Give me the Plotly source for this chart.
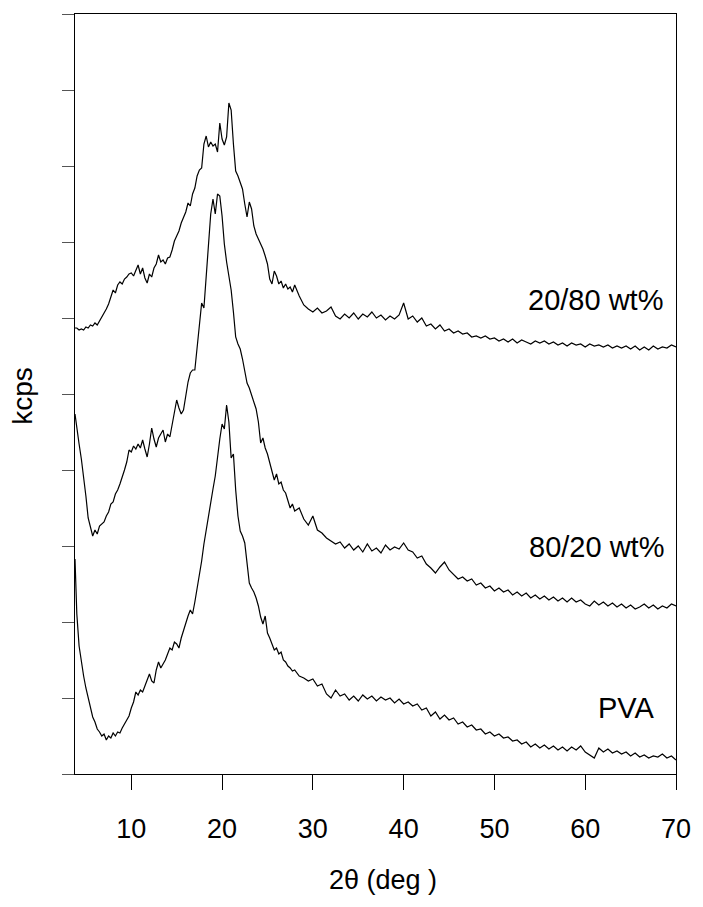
import plotly.graph_objects as go

# 2-theta grid (deg)
two_theta = [3.8] + [4.0 + 0.25 * i for i in range(97)] + [28.5 + 0.5 * i for i in range(84)]

# intensities (arbitrary kcps units, stacked as in the figure)
i_20_80 = [446,
    446, 444, 445, 444, 447, 446, 449, 448, 451, 449, 453, 456, 460, 465, 470, 478,
    484, 481, 489, 492, 490, 495, 497, 500, 501, 498, 504, 509, 500, 506, 496, 491,
    500, 497, 506, 510, 519, 512, 514, 510, 516, 517, 524, 533, 538, 543, 551, 556,
    562, 571, 568, 580, 586, 598, 604, 606, 630, 638, 627, 632, 628, 630, 622, 651,
    635, 629, 637, 671, 664, 630, 603, 598, 592, 585, 570, 557, 572, 565, 548, 540,
    535, 530, 525, 518, 510, 495, 490, 503, 498, 490, 493, 486, 490, 485, 487, 482,
    489,
    478, 469, 465, 462, 466, 461, 463, 467, 458, 455, 460, 456, 461, 455, 460, 457,
    462, 456, 459, 454, 458, 455, 459, 471, 455, 458, 452, 456, 448, 450, 445, 449,
    443, 445, 441, 443, 440, 441, 437, 438, 436, 438, 435, 436, 433, 435, 432, 435,
    431, 434, 432, 430, 433, 431, 433, 430, 432, 429, 431, 428, 431, 429, 430, 427,
    430, 428, 429, 427, 429, 426, 428, 426, 428, 425, 428, 424, 427, 424, 428, 425,
    427, 426, 429, 427]

i_80_20 = [360,
    345, 330, 315, 298, 278, 256, 246, 238, 244, 240, 248, 250, 252, 258, 262, 270,
    272, 280, 284, 290, 296, 304, 312, 324, 322, 328, 325, 330, 326, 334, 325, 317,
    330, 346, 335, 327, 336, 340, 344, 332, 340, 337, 350, 365, 374, 366, 360, 364,
    380, 392, 401, 404, 404, 425, 448, 471, 466, 495, 531, 560, 575, 560, 580, 578,
    558, 530, 512, 500, 484, 462, 437, 430, 425, 415, 404, 391, 386, 379, 374, 365,
    352, 331, 336, 326, 320, 311, 305, 294, 300, 290, 292, 284, 281, 272, 266, 270,
    263,
    266, 255, 249, 258, 244, 241, 236, 233, 230, 232, 226, 230, 224, 228, 222, 230,
    223, 226, 221, 229, 224, 227, 225, 231, 224, 222, 216, 218, 210, 206, 201, 207,
    212, 204, 199, 195, 197, 193, 195, 189, 191, 186, 188, 183, 186, 182, 184, 179,
    182, 178, 181, 176, 179, 175, 178, 174, 177, 173, 176, 172, 176, 172, 174, 170,
    168, 173, 169, 172, 168, 171, 167, 170, 166, 169, 165, 167, 170, 166, 169, 165,
    168, 166, 170, 168]

i_pva = [215,
    160, 128, 112, 98, 86, 77, 68, 57, 52, 45, 42, 38, 40, 34, 38, 36,
    41, 38, 42, 41, 46, 50, 54, 58, 66, 72, 82, 79, 84, 82, 88, 95,
    100, 93, 91, 104, 112, 106, 110, 114, 120, 126, 124, 132, 130, 126, 136, 144,
    151, 158, 164, 160, 172, 185, 200, 213, 230, 245, 257, 272, 285, 298, 318, 335,
    350, 345, 369, 352, 316, 320, 284, 258, 243, 238, 231, 212, 191, 186, 182, 176,
    168, 157, 150, 158, 141, 136, 130, 124, 126, 120, 122, 114, 112, 108, 106, 103,
    104,
    98, 96, 93, 95, 88, 90, 80, 76, 84, 78, 80, 74, 78, 73, 79, 75,
    78, 73, 77, 74, 76, 71, 75, 70, 72, 68, 70, 64, 66, 58, 62, 55,
    59, 54, 56, 50, 52, 47, 49, 44, 45, 40, 42, 38, 40, 36, 37, 33,
    34, 30, 32, 27, 30, 26, 29, 25, 28, 24, 27, 23, 27, 24, 28, 22,
    19, 16, 26, 22, 25, 21, 23, 20, 22, 18, 21, 17, 19, 16, 18, 17,
    20, 16, 18, 14]

x_ticks = [10, 20, 30, 40, 50, 60, 70]
y_ticks = [76 * k for k in range(11)]

FONT = "Liberation Sans, Arial, sans-serif"

fig = go.Figure()
for ys in (i_20_80, i_80_20, i_pva):
    fig.add_trace(go.Scatter(x=two_theta, y=ys, mode="lines",
                             line=dict(color="black", width=1.2),
                             showlegend=False, hoverinfo="skip"))

fig.update_layout(
    width=703, height=907,
    margin=dict(l=75, r=19, t=14, b=133),
    paper_bgcolor="white", plot_bgcolor="white",
    font=dict(family=FONT, color="black"),
)
fig.update_xaxes(range=[3.8, 70], tickvals=x_ticks, ticktext=[str(v) for v in x_ticks],
                 ticks="outside", ticklen=15, tickwidth=1, tickcolor="black",
                 showline=True, linecolor="black", linewidth=1, mirror=True,
                 showgrid=False, zeroline=False,
                 tickfont=dict(size=27, family=FONT, color="black"),
                 ticklabelstandoff=16)
fig.update_yaxes(range=[0, 760], tickvals=y_ticks, showticklabels=False,
                 ticks="outside", ticklen=12, tickwidth=1, tickcolor="#555",
                 showline=True, linecolor="black", linewidth=1, mirror=True,
                 showgrid=False, zeroline=False)

def px(xp):
    return (xp - 75) / 609.0

def py(yp):
    return (774 - yp) / 760.0

annos = [
    dict(text="20/80 wt%", x=px(532), y=py(300), xanchor="left", yanchor="middle", size=29, angle=0),
    dict(text="80/20 wt%", x=px(533), y=py(547), xanchor="left", yanchor="middle", size=29, angle=0),
    dict(text="PVA", x=px(603), y=py(708), xanchor="left", yanchor="middle", size=29, angle=0),
    dict(text="kcps", x=px(21), y=py(396), xanchor="center", yanchor="middle", size=28, angle=-90),
    dict(text="2θ (deg )", x=px(387), y=py(880), xanchor="center", yanchor="middle", size=27, angle=0),
]
for a in annos:
    fig.add_annotation(text=a["text"], x=a["x"], y=a["y"], xref="paper", yref="paper",
                       xanchor=a["xanchor"], yanchor=a["yanchor"], showarrow=False,
                       textangle=a["angle"], font=dict(size=a["size"], family=FONT, color="black"))

fig.write_html("out.html")
